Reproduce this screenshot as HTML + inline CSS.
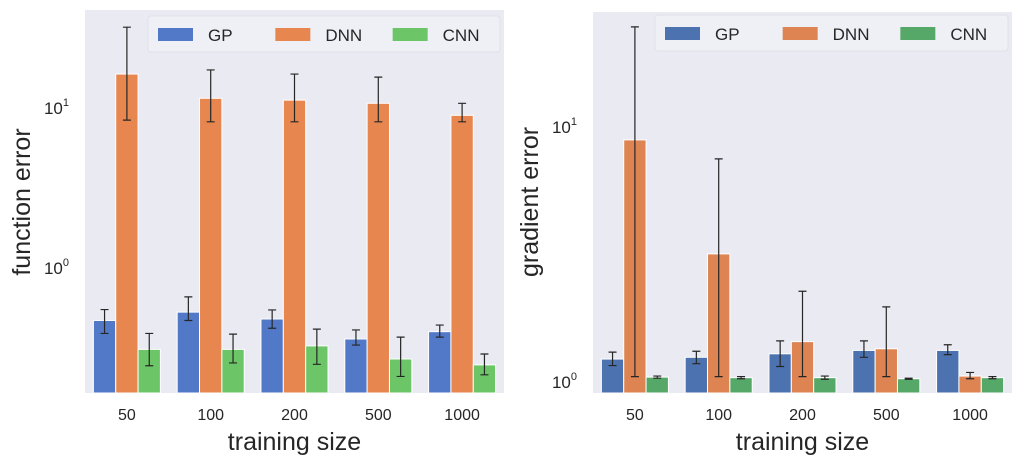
<!DOCTYPE html>
<html><head><meta charset="utf-8"><style>
html,body{margin:0;padding:0;background:#fff;}
svg{display:block;font-family:"Liberation Sans","DejaVu Sans",sans-serif;}
</style></head><body>
<svg id="c" width="1023" height="467" viewBox="0 0 1023 467"></svg>
<script>
const categories = ["50","100","200","500","1000"];
const seriesNames = ["GP","DNN","CNN"];
// left panel: function error
const fnGP = [0.47,0.53,0.48,0.36,0.40];
const fnGPLo = [0.39,0.47,0.42,0.33,0.37];
const fnGPHi = [0.55,0.66,0.547,0.41,0.44];
const fnDNN = [16.3,11.5,11.2,10.7,9.0];
const fnDNNLo = [8.4,8.2,8.2,8.2,8.2];
const fnDNNHi = [32,17.3,16.3,15.6,10.7];
const fnCNN = [0.31,0.31,0.326,0.27,0.248];
const fnCNNLo = [0.245,0.255,0.25,0.21,0.215];
const fnCNNHi = [0.39,0.386,0.415,0.37,0.29];
// right panel: gradient error
const grGP = [1.23,1.25,1.29,1.33,1.33];
const grGPLo = [1.16,1.18,1.15,1.25,1.28];
const grGPHi = [1.31,1.32,1.45,1.45,1.40];
const grDNN = [8.9,3.18,1.44,1.35,1.055];
const grDNNLo = [1.05,1.05,1.05,1.05,1.03];
const grDNNHi = [24.7,7.5,2.27,1.97,1.09];
const grCNN = [1.045,1.04,1.04,1.03,1.04];
const grCNNLo = [1.035,1.03,1.025,1.025,1.03];
const grCNNHi = [1.055,1.05,1.055,1.035,1.05];
const tickLabels = ["0","1"];

const NS="http://www.w3.org/2000/svg";
const svg=document.getElementById("c");
function mk(tag,attrs,parent){const e=document.createElementNS(NS,tag);for(const k in attrs)e.setAttribute(k,attrs[k]);(parent||svg).appendChild(e);return e;}

function panel(cfg){
  const g=mk("g",{});
  
  
  const bg=mk("rect",{x:cfg.x0,y:cfg.y0,width:cfg.x1-cfg.x0,height:cfg.y1-cfg.y0,fill:"#eaeaf2"},g);
  
  
  const yScale=v=>cfg.zeroY-cfg.decade*Math.log10(v);
  const step=(cfg.x1-cfg.x0)/categories.length;
  const bw=step*0.8/3;
  const xCenter=i=>cfg.x0+step*(i+0.5);
  tickLabels.forEach(t=>{
    const y=yScale(Math.pow(10,+t));
    const tx=mk("text",{x:cfg.x0-16,y:y+6,"text-anchor":"end","font-size":"17",fill:"#262626"},g);
    
    
    tx.appendChild(document.createTextNode("10"));
    const sup=mk("tspan",{dy:"-8","font-size":"11"},tx);
    sup.textContent=t;
  });
  const series=[[cfg.a,cfg.aLo,cfg.aHi],[cfg.b,cfg.bLo,cfg.bHi],[cfg.c,cfg.cLo,cfg.cHi]];
  categories.forEach((cat,i)=>{
    series.forEach((s,j)=>{
      const x=xCenter(i)-1.5*bw+j*bw;
      const top=yScale(s[0][i]);
      const r=mk("rect",{x:x,y:top,width:bw,height:cfg.y1-top,fill:cfg.colors[j],stroke:"#ffffff","stroke-width":"1"},g);
      
      
      const cx=x+bw/2, yl=yScale(s[1][i]), yh=yScale(s[2][i]);
      const e=mk("path",{d:`M${cx},${yl}V${yh}M${cx-4},${yl}H${cx+4}M${cx-4},${yh}H${cx+4}`,stroke:"#262626","stroke-width":"1.2",fill:"none"},g);
      
      
    });
    const tl=mk("text",{x:xCenter(i),y:cfg.y1+27,"text-anchor":"middle","font-size":"16",fill:"#262626"},g);
    
    
    tl.textContent=cat;
  });
  const xt=mk("text",{x:(cfg.x0+cfg.x1)/2,y:cfg.y1+57,"text-anchor":"middle","font-size":"25",fill:"#262626"},g);
  
  
  xt.textContent="training size";
  const yt=mk("text",{x:0,y:0,"text-anchor":"middle","font-size":"25",fill:"#262626",transform:`translate(${cfg.ylx},${cfg.yly}) rotate(-90)`},g);
  
  
  yt.textContent=cfg.ylabel;
  const lg=mk("g",{},g);
  
  
  mk("rect",{x:cfg.lx,y:cfg.ly,width:cfg.x1-cfg.lx-4,height:36,fill:"#eef0f6",stroke:"#e0e0ea","stroke-width":"1",rx:"3"},lg);
  const lstep=(cfg.x1-cfg.lx-4)/3;
  seriesNames.forEach((n,j)=>{
    const sx=cfg.lx+10+j*lstep;
    const sw=mk("rect",{x:sx,y:cfg.ly+12,width:35,height:13,fill:cfg.colors[j]},lg);
    
    
    const lt=mk("text",{x:sx+50,y:cfg.ly+25,"font-size":"17",fill:"#262626"},lg);
    
    
    lt.textContent=n;
  });
}
panel({name:"function-error-panel",x0:85,x1:504,y0:10,y1:393,zeroY:268,decade:160,
  colors:["#5279c8","#e8864f","#6cc668"],ylabel:"function error",ylx:30,yly:202,lx:148,ly:16,
  a:fnGP,aLo:fnGPLo,aHi:fnGPHi,b:fnDNN,bLo:fnDNNLo,bHi:fnDNNHi,c:fnCNN,cLo:fnCNNLo,cHi:fnCNNHi});
panel({name:"gradient-error-panel",x0:593,x1:1012,y0:12,y1:393,zeroY:382,decade:255,
  colors:["#4c72b0","#dd8452","#55a868"],ylabel:"gradient error",ylx:538,yly:202,lx:655,ly:15,
  a:grGP,aLo:grGPLo,aHi:grGPHi,b:grDNN,bLo:grDNNLo,bHi:grDNNHi,c:grCNN,cLo:grCNNLo,cHi:grCNNHi});
</script>
</body></html>
